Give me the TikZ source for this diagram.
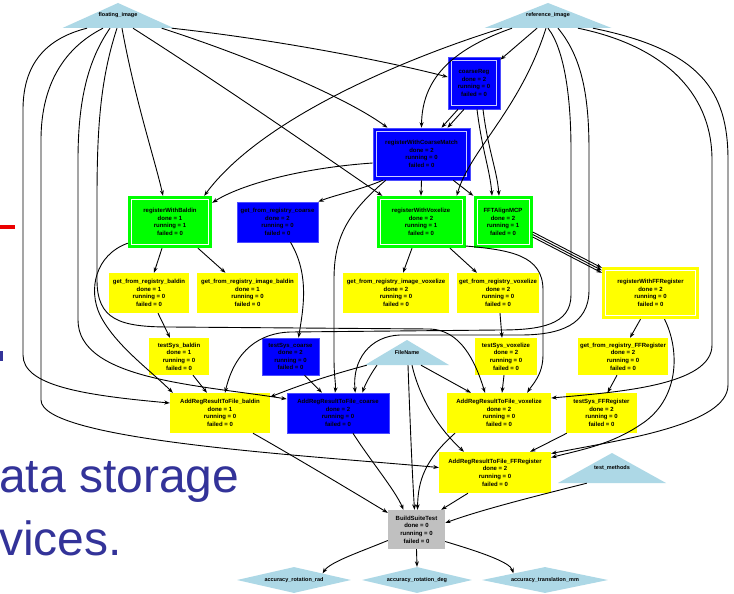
\documentclass[tikz,border=0pt]{standalone}
\usepackage{fontspec}
\setmainfont{Liberation Sans}
\usetikzlibrary{arrows.meta,shapes.geometric}

\definecolor{inlet}{RGB}{173,216,230}
\definecolor{okgreen}{RGB}{0,255,0}
\definecolor{runblue}{RGB}{0,0,255}
\definecolor{waityellow}{RGB}{255,255,0}
\definecolor{idlegray}{RGB}{192,192,192}
\definecolor{slideblue}{RGB}{51,51,153}
\definecolor{slidered}{RGB}{235,0,0}

\newcommand\tasklabel[4]{#1\\done = #2\\running = #3\\failed = #4}

\tikzset{
  task/.style={rectangle, inner sep=0pt, align=center,
    font=\fontsize{6}{7.6}\selectfont\bfseries},
  ytask/.style={task, fill=waityellow},
  btask/.style={task, fill=runblue, draw=runblue!70!white, line width=0.6pt},
  gtask/.style={task, fill=okgreen},
  ktask/.style={task, fill=idlegray},
  ring/.style={path picture={\draw[#1, line width=0.9pt]
    ([shift={(3.5pt,-3.5pt)}]path picture bounding box.north west) rectangle
    ([shift={(-3.5pt,3.5pt)}]path picture bounding box.south east);}},
  inport/.style={inner sep=0pt, font=\fontsize{5.5}{6}\selectfont\bfseries,
    path picture={\fill[inlet] (path picture bounding box.south west) --
      (path picture bounding box.north) -- (path picture bounding box.south east) -- cycle;}},
  outport/.style={diamond, aspect=4, fill=inlet, inner sep=0pt,
    font=\fontsize{5.5}{6}\selectfont\bfseries},
  e/.style={-{Stealth[length=5.5pt,width=4pt]}, line width=0.9pt},
}

\begin{document}
\begin{tikzpicture}[x=1pt,y=-1pt]
\fill[white] (0,0) rectangle (734,594);
\useasboundingbox (0,0) rectangle (734,594);

% slide text behind the graph
\fill[slidered] (0,225) rectangle (15,229);
\fill[slideblue] (0,351) rectangle (2.5,361);
\node[anchor=base west, inner sep=0pt, text=slideblue,
  font=\fontsize{48}{48}\selectfont] (line1) at (-1,492) {ata storage};
\node[anchor=base west, inner sep=0pt, text=slideblue,
  font=\fontsize{48}{48}\selectfont] (line2) at (-1,555) {vices.};

% inputs
\node[inport, minimum width=111pt, minimum height=25pt] (fi) at (118,15.5) {\raisebox{-2.5pt}{floating\_image}};
\node[inport, minimum width=127pt, minimum height=25pt] (ri) at (548,15.5) {\raisebox{-2.5pt}{reference\_image}};
\node[inport, minimum width=84pt, minimum height=25pt] (fn) at (407,352.5) {\raisebox{-2.5pt}{FileName}};
\node[inport, minimum width=108pt, minimum height=30pt] (tm) at (612,468) {\raisebox{-3pt}{test\_methods}};

% registration tasks
\node[btask, ring=white!80!runblue, minimum width=52pt, minimum height=52pt] (cr) at (474,83) {\tasklabel{coarseReg}{2}{0}{0}};
\node[btask, ring=white!80!runblue, minimum width=97pt, minimum height=52pt] (rcm) at (421.5,154) {\tasklabel{registerWithCoarseMatch}{2}{0}{0}};
\node[gtask, ring=white, minimum width=84pt, minimum height=52pt] (rb) at (170,222) {\tasklabel{registerWithBaldin}{1}{1}{0}};
\node[btask, minimum width=81pt, minimum height=40pt] (grc) at (277.5,222) {\tasklabel{get\_from\_registry\_coarse}{2}{0}{0}};
\node[gtask, ring=white, minimum width=89pt, minimum height=52pt] (rv) at (421,222) {\tasklabel{registerWithVoxelize}{2}{1}{0}};
\node[gtask, ring=white, minimum width=59pt, minimum height=52pt] (fft) at (503,222) {\tasklabel{FFTAlignMCP}{2}{1}{0}};

% registry lookups
\node[ytask, minimum width=80pt, minimum height=40pt] (grb) at (149,293) {\tasklabel{get\_from\_registry\_baldin}{1}{0}{0}};
\node[ytask, minimum width=101pt, minimum height=40pt] (grib) at (247.5,293) {\tasklabel{get\_from\_registry\_image\_baldin}{1}{0}{0}};
\node[ytask, minimum width=106pt, minimum height=40pt] (griv) at (396,293) {\tasklabel{get\_from\_registry\_image\_voxelize}{2}{0}{0}};
\node[ytask, minimum width=82pt, minimum height=40pt] (grv) at (498,293) {\tasklabel{get\_from\_registry\_voxelize}{2}{0}{0}};
\node[ytask, ring=white, minimum width=97pt, minimum height=52pt] (rff) at (650.5,293) {\tasklabel{registerWithFFRegister}{2}{0}{0}};

% system tests
\node[ytask, minimum width=60pt, minimum height=37pt] (tsb) at (179,356.5) {\tasklabel{testSys\_baldin}{1}{0}{0}};
\node[btask, minimum width=57pt, minimum height=37pt] (tsc) at (290.5,356.5) {\tasklabel{testSys\_coarse}{2}{0}{0}};
\node[ytask, minimum width=62pt, minimum height=37pt] (tsv) at (506,356.5) {\tasklabel{testSys\_voxelize}{2}{0}{0}};
\node[ytask, minimum width=90pt, minimum height=37pt] (gff) at (623,356.5) {\tasklabel{get\_from\_registry\_FFRegister}{2}{0}{0}};

% result files
\node[ytask, minimum width=100pt, minimum height=40pt] (ab) at (220,413) {\tasklabel{AddRegResultToFile\_baldin}{1}{0}{0}};
\node[btask, minimum width=102pt, minimum height=40pt] (ac) at (338,413) {\tasklabel{AddRegResultToFile\_coarse}{2}{0}{0}};
\node[ytask, minimum width=104pt, minimum height=40pt] (av) at (499,413) {\tasklabel{AddRegResultToFile\_voxelize}{2}{0}{0}};
\node[ytask, minimum width=71pt, minimum height=40pt] (tsf) at (601.5,413) {\tasklabel{testSys\_FFRegister}{2}{0}{0}};
\node[ytask, minimum width=112pt, minimum height=41pt] (aff) at (495,472.5) {\tasklabel{AddRegResultToFile\_FFRegister}{2}{0}{0}};
\node[ktask, minimum width=57pt, minimum height=39pt] (bst) at (416.5,529.5) {\tasklabel{BuildSuiteTest}{0}{0}{0}};

% outputs
\node[outport, minimum width=114pt, minimum height=26pt] (ars) at (294,580) {accuracy\_rotation\_rad};
\node[outport, minimum width=110pt, minimum height=26pt] (ard) at (417,580) {accuracy\_rotation\_deg};
\node[outport, minimum width=126pt, minimum height=26pt] (atm) at (545,580) {accuracy\_translation\_mm};

% ---- connectors ----
% floating_image
\draw[e] ([xshift=4pt]fi.south) .. controls (135,100) and (155,160) .. ([xshift=-7pt]rb.north);
\draw[e] ([xshift=-2pt]fi.south east) .. controls (280,40) and (390,62) .. ([yshift=6pt]cr.west);
\draw[e] ([xshift=-12pt]fi.south east) .. controls (260,60) and (350,100) .. ([xshift=-34pt]rcm.north);
\draw[e] ([xshift=15pt]fi.south) .. controls (230,90) and (330,160) .. ([xshift=6pt]rv.north west);
\draw[e] ([xshift=-31pt]fi.south) .. controls (40,40) and (23,70) .. (23,110) -- (23,355)
  .. controls (23,385) and (80,395) .. ([yshift=10pt]ab.west);
\draw[e] ([xshift=-15pt]fi.south) .. controls (60,50) and (41,90) .. (41,140) -- (41,400)
  .. controls (41,440) and (300,455) .. ([yshift=5pt]aff.west);
\draw[e] ([xshift=-8pt]fi.south) .. controls (88,60) and (78,100) .. (78,160) -- (78,320)
  .. controls (78,380) and (200,385) .. ([yshift=14pt]ac.west);
\draw[e] ([xshift=-1pt]fi.south) .. controls (100,80) and (97,130) .. (97,200) -- (97,280)
  .. controls (97,320) and (120,327) .. (170,327) -- (430,329)
  .. controls (460,330) and (475,360) .. ([xshift=-14pt]av.north);

% reference_image
\draw[e] ([xshift=-11pt]ri.south) -- ([yshift=-3pt]cr.north east);
\draw[e] ([xshift=-36pt]ri.south) .. controls (450,50) and (422,80) .. (rcm.north);
\draw[e] ([xshift=-46pt]ri.south) .. controls (400,60) and (260,120) .. ([xshift=-8pt]rb.north east);
\draw[e] ([xshift=-2pt]ri.south) .. controls (520,110) and (470,150) .. ([xshift=-9pt]rv.north east);
\draw[e] (ri.south) .. controls (565,50) and (571,100) .. (571,150) -- (571,295)
  .. controls (571,325) and (540,330) .. (500,330) -- (290,332)
  .. controls (260,333) and (235,350) .. ([xshift=5pt]ab.north);
\draw[e] ([xshift=10pt]ri.south) .. controls (580,55) and (589,90) .. (589,150) -- (589,290)
  .. controls (589,325) and (560,335) .. (520,335) -- (400,335)
  .. controls (370,336) and (352,360) .. ([xshift=-34pt]ac.north east);
\draw[e] ([xshift=30pt]ri.south) .. controls (660,45) and (712,90) .. (712,160) -- (712,345)
  .. controls (712,385) and (620,392) .. ([yshift=15pt]av.east);
\draw[e] ([xshift=45pt]ri.south) .. controls (700,50) and (728,90) .. (728,160) -- (728,385)
  .. controls (728,425) and (620,440) .. ([yshift=19pt]aff.east);

% coarse registration
\draw[e] ([xshift=-16pt]cr.south) -- ([xshift=20pt]rcm.north);
\draw[e] ([xshift=-10pt]cr.south) -- ([xshift=26pt]rcm.north);
\draw[e] ([xshift=3pt]cr.south) .. controls (482,150) and (490,170) .. ([xshift=-11pt]fft.north);
\draw[e] ([xshift=9pt]cr.south) .. controls (488,150) and (497,170) .. ([xshift=-4pt]fft.north);
\draw[e] ([yshift=-9pt]rcm.west) .. controls (300,168) and (240,185) .. ([yshift=-7pt]rb.north east);
\draw[e] ([xshift=10pt]rcm.south west) .. controls (360,190) and (335,195) .. (grc.north east);
\draw[e] ([xshift=13pt]rcm.south west) .. controls (345,215) and (334,240) .. (334,280) -- (334,360)
  .. controls (334,375) and (336,385) .. ([xshift=-3pt]ac.north);
\draw[e] (rcm.south) -- (rv.north);
\draw[e] ([xshift=-17pt]rcm.south east) -- (fft.north west);

% baldin branch
\draw[e] ([xshift=-8pt]rb.south) -- ([xshift=5pt]grb.north);
\draw[e] ([xshift=28pt]rb.south) -- ([xshift=-22pt]grib.north);
\draw[e] ([yshift=5pt]rb.south west) .. controls (95,255) and (88,290) .. (100,315)
  .. controls (115,345) and (150,370) .. ([xshift=3pt]ab.north west);
\draw[e] ([xshift=9pt]grb.south) -- ([xshift=-9pt]tsb.north);
\draw[e] ([xshift=14pt]tsb.south) -- ([xshift=-13pt]ab.north);

% coarse branch
\draw[e] ([xshift=13pt]grc.south) .. controls (310,275) and (303,310) .. ([xshift=8pt]tsc.north);
\draw[e] ([xshift=14pt]tsc.south) -- ([xshift=-16pt]ac.north);

% voxelize branch
\draw[e] ([xshift=-9pt]rv.south) -- ([xshift=7pt]griv.north);
\draw[e] ([xshift=29pt]rv.south) -- ([xshift=-21pt]grv.north);
\draw[e] ([yshift=-24pt]rv.east) .. controls (510,250) and (543,255) .. (543,290) -- (543,355)
  .. controls (543,375) and (532,385) .. ([xshift=-24pt]av.north east);
\draw[e] ([xshift=2pt]grv.south) -- ([xshift=-4pt]tsv.north);
\draw[e] ([xshift=-2pt]tsv.south) -- ([xshift=3pt]av.north);

% FFRegister branch
\draw[e] ([yshift=-10pt]fft.east) -- ([yshift=-1pt]rff.north west);
\draw[e] ([yshift=-12.5pt]fft.east) -- ([yshift=-3.5pt]rff.north west);
\draw[e] ([yshift=-15pt]fft.east) -- ([yshift=-6pt]rff.north west);
\draw[e] ([xshift=-10pt]rff.south) -- ([xshift=7pt]gff.north);
\draw[e] ([xshift=14pt]rff.south) .. controls (680,350) and (680,400) .. (640,425)
  .. controls (610,445) and (580,450) .. ([yshift=15pt]aff.east);
\draw[e] ([xshift=-6pt]gff.south) -- ([xshift=6pt]tsf.north);
\draw[e] ([xshift=1pt]tsf.south west) -- ([xshift=-21pt]aff.north east);

% FileName
\draw[e] ([xshift=2pt]fn.south west) .. controls (330,375) and (300,385) .. ([yshift=16pt]ab.east);
\draw[e] ([xshift=-30pt]fn.south) .. controls (370,375) and (365,385) .. ([xshift=-27pt]ac.north east);
\draw[e] ([xshift=14pt]fn.south) -- ([xshift=-28pt]av.north);
\draw[e] ([xshift=5pt]fn.south) .. controls (420,400) and (440,430) .. ([xshift=-31pt]aff.north);
\draw[e] ([xshift=1pt]fn.south) .. controls (410,420) and (412,470) .. ([xshift=-2pt]bst.north);

% suite assembly
\draw[e] ([xshift=33pt]ab.south) .. controls (300,460) and (350,490) .. ([yshift=-3pt]bst.north west);
\draw[e] ([xshift=15pt]ac.south) .. controls (370,460) and (395,490) .. ([xshift=-13pt]bst.north);
\draw[e] ([xshift=-44pt]av.south) .. controls (425,460) and (418,480) .. ([xshift=1pt]bst.north);
\draw[e] ([xshift=-27pt]aff.south) -- ([xshift=-4pt]bst.north east);
\draw[e] ([xshift=29pt]tm.south west) .. controls (540,495) and (480,510) .. ([yshift=6.5pt]bst.east);

% outputs
\draw[e] ([yshift=-11pt]bst.west) .. controls (360,552) and (330,562) .. (ars.north east);
\draw[e] (bst.south) -- (ard.north);
\draw[e] ([yshift=-12pt]bst.east) .. controls (480,552) and (510,562) .. (atm.north west);
\end{tikzpicture}
\end{document}
